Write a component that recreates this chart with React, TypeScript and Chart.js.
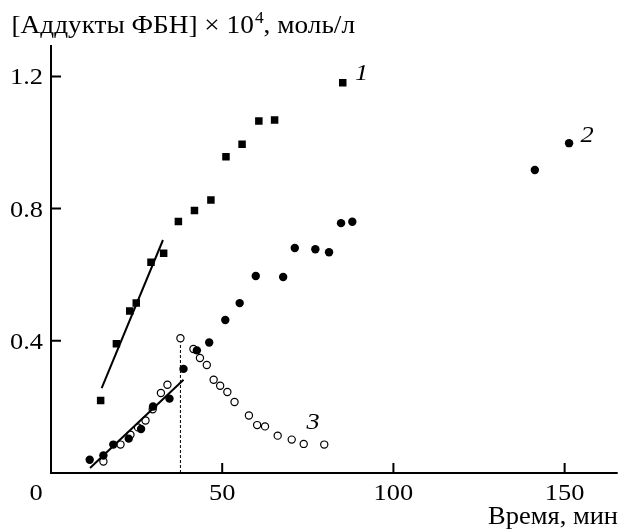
import React, { useEffect, useRef } from "react";
import { Chart, registerables } from "chart.js";

Chart.register(...registerables);

// Series 1 (filled squares)
const s1X = [14.5, 19.1, 23.0, 24.9, 29.2, 32.9, 37.2, 41.9, 46.7, 51.1, 55.8, 60.7, 65.3, 85.2];
const s1Y = [0.219, 0.391, 0.49, 0.514, 0.638, 0.665, 0.761, 0.794, 0.826, 0.957, 0.995, 1.065, 1.068, 1.181];

// Series 2 (filled circles)
const s2X = [11.3, 15.3, 18.2, 22.7, 26.3, 29.8, 34.6, 38.7, 42.6, 46.2, 50.9, 55.1, 59.8, 67.8, 71.2, 77.2, 81.2, 84.7, 88.0, 141.3, 151.3];
const s2Y = [0.04, 0.053, 0.086, 0.104, 0.133, 0.201, 0.225, 0.315, 0.371, 0.395, 0.463, 0.514, 0.596, 0.593, 0.681, 0.677, 0.668, 0.756, 0.76, 0.917, 0.998];

// Series 3 (open circles)
const s3X = [15.3, 20.3, 23.2, 25.4, 27.6, 29.7, 32.1, 34.0, 37.8, 41.6, 43.5, 45.5, 47.5, 49.4, 51.5, 53.6, 57.8, 60.2, 62.5, 66.2, 70.3, 73.8, 79.8];
const s3Y = [0.035, 0.086, 0.116, 0.138, 0.159, 0.193, 0.242, 0.267, 0.408, 0.375, 0.348, 0.327, 0.282, 0.264, 0.245, 0.215, 0.174, 0.145, 0.141, 0.113, 0.101, 0.088, 0.086];

// Fitted straight lines
const fit1X = [14.8, 32.7];
const fit1Y = [0.257, 0.705];
const fit2X = [11.4, 38.7];
const fit2Y = [0.015, 0.282];

// Dashed drop line at the maximum of curve 3
const dropX = [37.8, 37.8];
const dropY = [0, 0.395];

// Axes
const xMin = 0;
const xMax = 165.5;
const yMin = 0;
const yMax = 1.295;
const xTicks = [0, 50, 100, 150];
const xTickLabels = ["0", "50", "100", "150"];
const yTicks = [0.4, 0.8, 1.2];
const yTickLabels = ["0.4", "0.8", "1.2"];

const yTitleMain = "[Аддукты ФБН] × 10";
const yTitleSup = "4";
const yTitleEnd = ", моль/л";
const xTitle = "Время, мин";

// Curve numbers: [label, x, y]
const curveLabels: [string, number, number][] = [
  ["1", 88.8, 1.189],
  ["2", 154.6, 1.0],
  ["3", 74.6, 0.134],
];

const pts = (xs: number[], ys: number[]) => xs.map((x, i) => ({ x, y: ys[i] }));

const FONT = '"Liberation Serif", "Times New Roman", serif';
const SX = 1.1; // horizontal text stretch of the original

function txt(ctx: CanvasRenderingContext2D, s: string, x: number, y: number, align: CanvasTextAlign, sx = SX) {
  ctx.save();
  ctx.translate(x, y);
  ctx.scale(sx, 1);
  ctx.textAlign = align;
  ctx.fillText(s, 0, 0);
  ctx.restore();
}

const axesPlugin = {
  id: "customAxes",
  afterDraw(chart: any) {
    const { ctx, chartArea: a, scales } = chart;
    const xs = scales.x;
    const ys = scales.y;
    ctx.save();
    ctx.strokeStyle = "#000";
    ctx.fillStyle = "#000";
    ctx.lineWidth = 2;
    ctx.beginPath();
    ctx.moveTo(a.left, a.top);
    ctx.lineTo(a.left, a.bottom);
    ctx.lineTo(a.right, a.bottom);
    ctx.stroke();

    // tick marks (inward)
    ctx.beginPath();
    xTicks.forEach((t) => {
      if (t === 0) return;
      const px = xs.getPixelForValue(t);
      ctx.moveTo(px, a.bottom);
      ctx.lineTo(px, a.bottom - 10);
    });
    yTicks.forEach((t) => {
      const py = ys.getPixelForValue(t);
      ctx.moveTo(a.left, py);
      ctx.lineTo(a.left + 10, py);
    });
    ctx.stroke();

    ctx.font = `24px ${FONT}`;
    ctx.textBaseline = "alphabetic";
    xTicks.forEach((t, i) => {
      let px = xs.getPixelForValue(t);
      if (t === 0) px -= 15;
      txt(ctx, xTickLabels[i], px, a.bottom + 27, "center");
    });
    yTicks.forEach((t, i) => {
      const py = ys.getPixelForValue(t);
      txt(ctx, yTickLabels[i], a.left - 8, py + 8, "right");
    });

    // y title, fitted between x=11.5 and x=355
    const ty = 33;
    ctx.font = `25px ${FONT}`;
    const wMain = ctx.measureText(yTitleMain).width;
    const wEnd = ctx.measureText(yTitleEnd).width;
    ctx.font = `16px ${FONT}`;
    const wSup = ctx.measureText(yTitleSup).width + 1;
    const ts = (355 - 11.5) / (wMain + wSup + wEnd);
    let tx = 11.5;
    ctx.font = `25px ${FONT}`;
    txt(ctx, yTitleMain, tx, ty, "left", ts);
    tx += wMain * ts;
    ctx.font = `16px ${FONT}`;
    txt(ctx, yTitleSup, tx + 1 * ts, ty - 10, "left", ts);
    tx += wSup * ts;
    ctx.font = `25px ${FONT}`;
    txt(ctx, yTitleEnd, tx, ty, "left", ts);

    // x title, fitted between 488 and 618
    const wx = ctx.measureText(xTitle).width;
    txt(ctx, xTitle, 618, 524, "right", 130 / wx);

    // curve labels
    ctx.font = `italic 24px ${FONT}`;
    curveLabels.forEach(([l, x, y]) => {
      txt(ctx, l, xs.getPixelForValue(x), ys.getPixelForValue(y), "left");
    });
    ctx.restore();
  },
};

export default function App() {
  const ref = useRef<HTMLCanvasElement>(null);
  useEffect(() => {
    if (!ref.current) return;
    const chart = new Chart(ref.current, {
      type: "scatter",
      data: {
        datasets: [
          {
            data: pts(dropX, dropY),
            showLine: true,
            borderColor: "#000",
            borderWidth: 1,
            borderDash: [3, 2],
            pointRadius: 0,
          },
          {
            data: pts(fit1X, fit1Y),
            showLine: true,
            borderColor: "#000",
            borderWidth: 2,
            pointRadius: 0,
          },
          {
            data: pts(fit2X, fit2Y),
            showLine: true,
            borderColor: "#000",
            borderWidth: 2,
            pointRadius: 0,
          },
          {
            data: pts(s1X, s1Y),
            pointStyle: "rect",
            pointRadius: 5.3,
            backgroundColor: "#000",
            borderColor: "#000",
            borderWidth: 0,
          },
          {
            data: pts(s2X, s2Y),
            pointStyle: "circle",
            pointRadius: 4.2,
            backgroundColor: "#000",
            borderColor: "#000",
            borderWidth: 0,
          },
          {
            data: pts(s3X, s3Y),
            pointStyle: "circle",
            pointRadius: 3.6,
            backgroundColor: "#fff",
            borderColor: "#000",
            borderWidth: 1.2,
          },
        ],
      },
      options: {
        animation: false,
        responsive: false,
        devicePixelRatio: 1,
        layout: { padding: { left: 51, right: 1.5, top: 45, bottom: 57 } },
        plugins: { legend: { display: false }, tooltip: { enabled: false } },
        scales: {
          x: { type: "linear", min: xMin, max: xMax, display: false },
          y: { type: "linear", min: yMin, max: yMax, display: false },
        },
      },
      plugins: [axesPlugin],
    });
    return () => chart.destroy();
  }, []);
  return (
    <div style={{ position: "absolute", left: 0, top: 0, width: 623, height: 530, background: "#fff" }}>
      <canvas ref={ref} width={623} height={530} />
    </div>
  );
}
